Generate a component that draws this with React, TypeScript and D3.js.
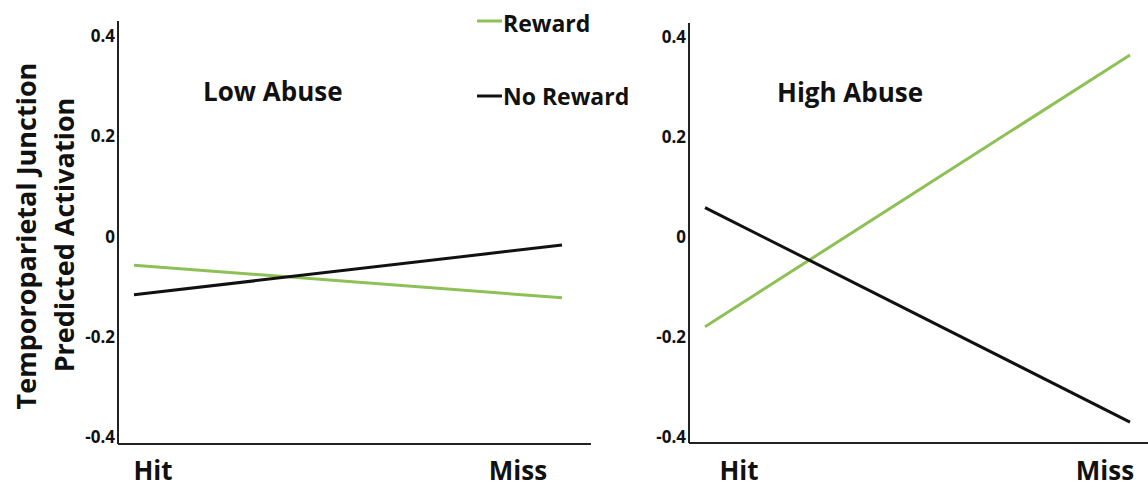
import React from "react";
import * as d3 from "d3";

const conditions = ["Hit", "Miss"];
const panelTitles = ["Low Abuse", "High Abuse"];
const rewardLow = [-0.058, -0.123];
const noRewardLow = [-0.117, -0.018];
const rewardHigh = [-0.181, 0.364];
const noRewardHigh = [0.058, -0.372];
const yTicks = [-0.4, -0.2, 0, 0.2, 0.4];
const yTickLabels = ["-0.4", "-0.2", "0", "0.2", "0.4"];
const seriesNames = ["Reward", "No Reward"];

const GREEN = "#8dc155";
const BLACK = "#111111";
const FONT = "'Open Sans', sans-serif";

const panels = [
  {
    title: panelTitles[0],
    reward: rewardLow,
    noReward: noRewardLow,
    axisX: 118,
    axisEnd: 591,
    top: 21,
    bottom: 444,
    dataX: [134, 562],
    labelX: [153, 518],
    titleX: 203,
    titleY: 101,
  },
  {
    title: panelTitles[1],
    reward: rewardHigh,
    noReward: noRewardHigh,
    axisX: 689,
    axisEnd: 1148,
    top: 23,
    bottom: 443,
    dataX: [705, 1130],
    labelX: [739, 1105],
    titleX: 777,
    titleY: 102,
  },
];

function Panel({ p }: { p: (typeof panels)[number] }) {
  const y = d3.scaleLinear().domain([-0.414, 0.428]).range([p.bottom, p.top]);
  const x = d3.scalePoint<string>().domain(conditions).range(p.dataX as [number, number]);
  const xl = d3.scalePoint<string>().domain(conditions).range(p.labelX as [number, number]);
  const line = d3
    .line<number>()
    .x((_, i) => x(conditions[i]) as number)
    .y((d) => y(d));
  return (
    <g>
      <line x1={p.axisX} x2={p.axisX} y1={p.top} y2={p.bottom} stroke="#222" strokeWidth={2} />
      <line x1={p.axisX} x2={p.axisEnd} y1={p.bottom} y2={p.bottom} stroke="#222" strokeWidth={2} />
      {yTicks.map((t, i) => (
        <text
          key={t}
          x={p.axisX - 3}
          y={y(t)}
          textAnchor="end"
          dominantBaseline="central"
          fontFamily={FONT}
          fontWeight={700}
          fontSize={17}
          fill="#111"
        >
          {yTickLabels[i]}
        </text>
      ))}
      {conditions.map((c) => (
        <text
          key={c}
          x={xl(c)}
          y={480}
          textAnchor="middle"
          fontFamily={FONT}
          fontWeight={700}
          fontSize={26}
          fill="#111"
        >
          {c}
        </text>
      ))}
      <path d={line(p.reward) || ""} fill="none" stroke={GREEN} strokeWidth={3} />
      <path d={line(p.noReward) || ""} fill="none" stroke={BLACK} strokeWidth={3} />
      <text x={p.titleX} y={p.titleY} fontFamily={FONT} fontWeight={700} fontSize={26} fill="#111">
        {p.title}
      </text>
    </g>
  );
}

export default function App() {
  return (
    <svg
      width={1148}
      height={487}
      style={{ position: "absolute", left: 0, top: 0, background: "#fff" }}
    >
      <rect width={1148} height={487} fill="#fff" />
      {panels.map((p) => (
        <Panel key={p.title} p={p} />
      ))}
      <g fontFamily={FONT} fontWeight={700} fill="#111">
        <text transform="translate(25,236) rotate(-90)" textAnchor="middle" dominantBaseline="central" fontSize={27}>
          Temporoparietal Junction
        </text>
        <text transform="translate(63,235) rotate(-90)" textAnchor="middle" dominantBaseline="central" fontSize={27}>
          Predicted Activation
        </text>
      </g>
      <g fontFamily={FONT} fontWeight={700} fontSize={23} fill="#111">
        <line x1={477} x2={502} y1={21} y2={21} stroke={GREEN} strokeWidth={3} />
        <text x={503} y={32}>{seriesNames[0]}</text>
        <line x1={477} x2={502} y1={96} y2={96} stroke={BLACK} strokeWidth={3} />
        <text x={503} y={105}>{seriesNames[1]}</text>
      </g>
    </svg>
  );
}
